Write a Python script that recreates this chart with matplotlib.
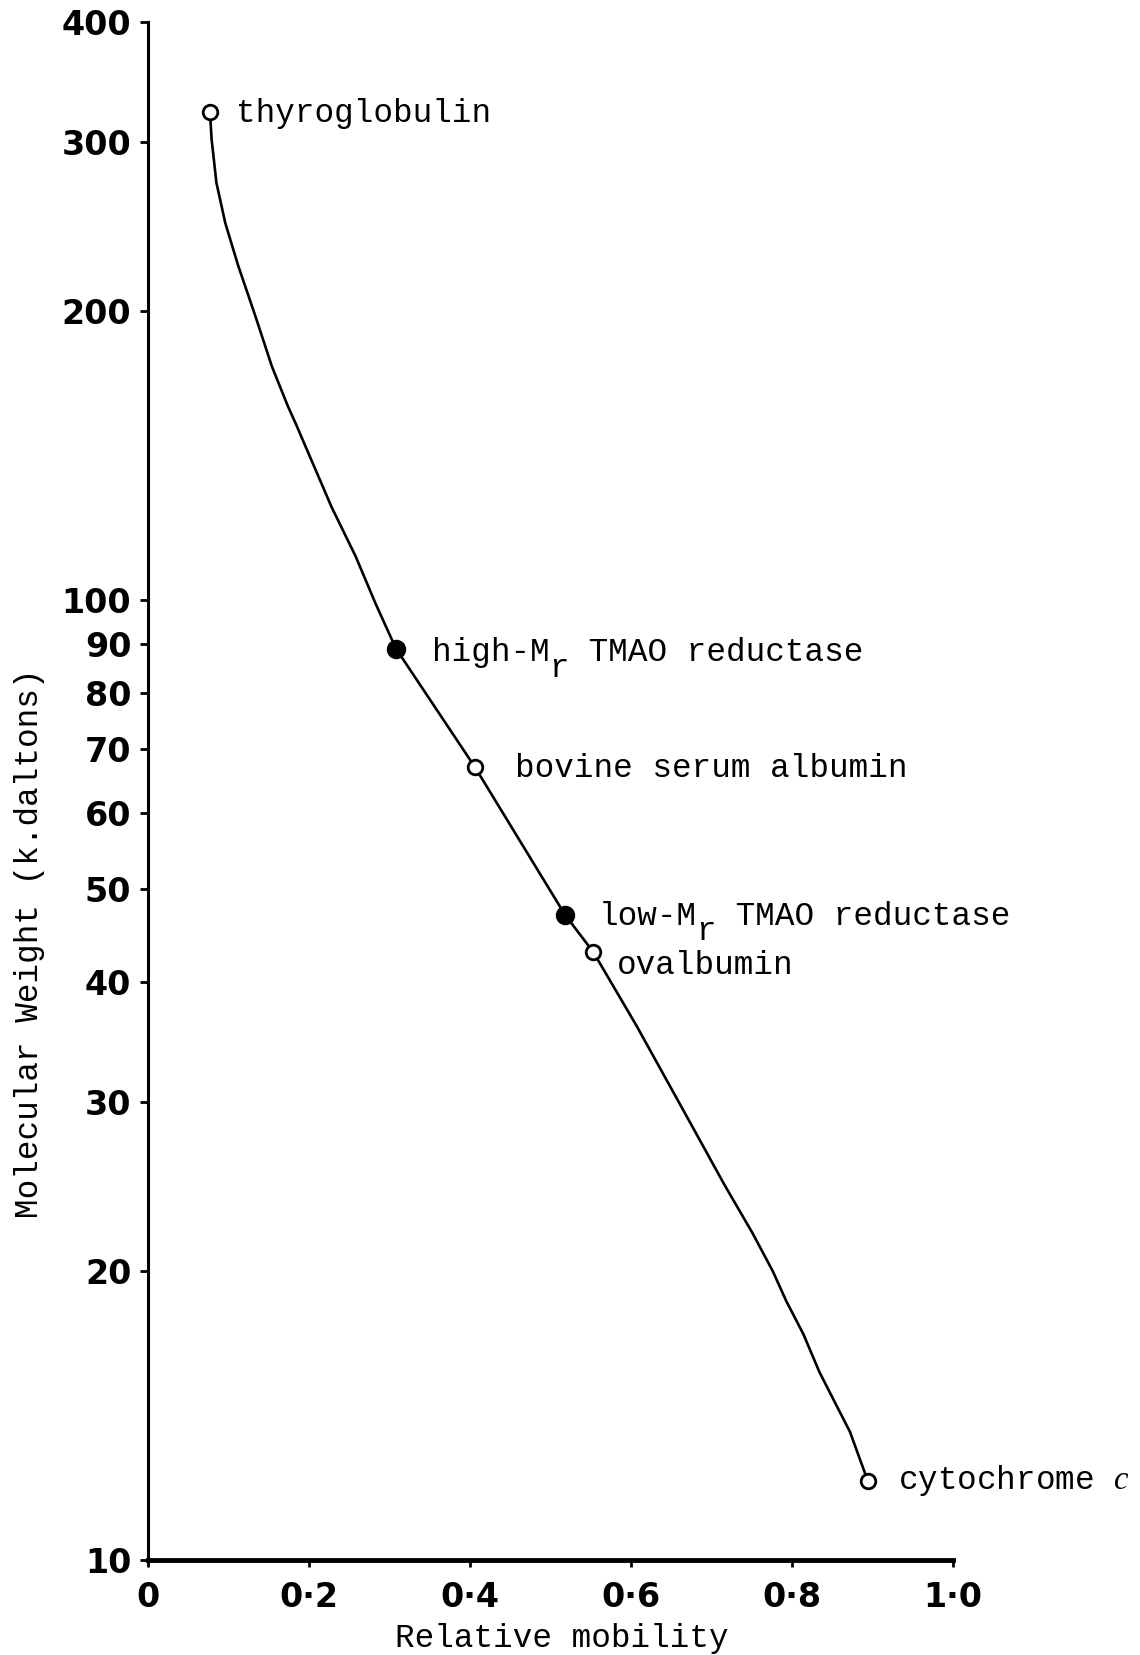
import matplotlib.pyplot as plt
from matplotlib.ticker import FixedLocator, NullLocator

plt.rcParams["mathtext.fontset"] = "custom"
plt.rcParams["mathtext.rm"] = "Liberation Mono"
plt.rcParams["mathtext.it"] = "Liberation Serif:italic"

# --- marker proteins ---
# "|r|" marks the subscript r of M_r
proteins = ["thyroglobulin", "high-M|r| TMAO reductase", "bovine serum albumin",
            "low-M|r| TMAO reductase", "ovalbumin", "cytochrome $c$"]
mobility = [0.077, 0.308, 0.406, 0.518, 0.553, 0.894]
mw_kda = [322, 89, 67, 47, 43, 12.1]
filled = [False, True, False, True, False, False]

# hand-drawn calibration curve, traced points
curve_x = [0.077, 0.079, 0.085, 0.096, 0.112, 0.133, 0.154, 0.174, 0.183,
           0.228, 0.258, 0.283, 0.308, 0.406, 0.518, 0.553, 0.607, 0.676,
           0.716, 0.751, 0.776, 0.793, 0.814, 0.834, 0.855, 0.872, 0.894]
curve_y = [322, 302, 272, 247, 223, 198, 175, 159, 153,
           125, 111, 99, 89, 67, 47, 43, 36.0, 28.3,
           24.6, 21.9, 20.0, 18.6, 17.2, 15.7, 14.5, 13.6, 12.1]

y_ticks = [10, 20, 30, 40, 50, 60, 70, 80, 90, 100, 200, 300, 400]
y_ticklabels = [str(v) for v in y_ticks]
x_ticks = [0, 0.2, 0.4, 0.6, 0.8, 1.0]
x_ticklabels = ["0", "0·2", "0·4", "0·6", "0·8", "1·0"]

mono = "Liberation Mono"
fs = 23.5
cw = 0.6 * fs  # monospace advance, points

fig = plt.figure(figsize=(11.4, 16.55), dpi=100)
ax = fig.add_axes([148 / 1140, 1 - 1560 / 1655, 805 / 1140, 1538 / 1655])

ax.plot(curve_x, curve_y, color="black", lw=1.9, zorder=2)
for x, y, f in zip(mobility, mw_kda, filled):
    ax.plot(x, y, "o", ms=12 if f else 10.5, mew=2.0, mec="black",
            mfc="black" if f else "white", zorder=3)

# label offsets in points (dx, dy)
offsets = [(19, -1), (26, -3), (29, -1), (24, -1), (17, -10), (22, 0)]
for name, x, y, (dx, dy) in zip(proteins, mobility, mw_kda, offsets):
    parts = name.split("|")
    if len(parts) == 1:
        ax.annotate(name, (x, y), xytext=(dx, dy), textcoords="offset points",
                    ha="left", va="center", fontfamily=mono, fontsize=fs)
        continue
    head, sub, tail = parts
    ax.annotate(head, (x, y), xytext=(dx, dy), textcoords="offset points",
                ha="left", va="center", fontfamily=mono, fontsize=fs)
    ax.annotate(sub, (x, y), xytext=(dx + len(head) * cw, dy - 11),
                textcoords="offset points", ha="left", va="center",
                fontfamily=mono, fontsize=fs)
    ax.annotate(tail, (x, y), xytext=(dx + (len(head) + 1) * cw, dy),
                textcoords="offset points", ha="left", va="center",
                fontfamily=mono, fontsize=fs)

ax.set_yscale("log")
ax.set_ylim(10, 400)
ax.set_xlim(0, 1.0)
ax.yaxis.set_major_locator(FixedLocator(y_ticks))
ax.yaxis.set_minor_locator(NullLocator())
ax.set_yticklabels(y_ticklabels)
ax.set_xticks(x_ticks)
ax.set_xticklabels(x_ticklabels)

for lab in ax.get_yticklabels() + ax.get_xticklabels():
    lab.set_fontfamily("DejaVu Sans")
    lab.set_fontweight("bold")
ax.tick_params(axis="y", labelsize=24, length=6, width=2, pad=6)
ax.tick_params(axis="x", labelsize=24, length=5, width=2, pad=10)

ax.spines["top"].set_visible(False)
ax.spines["right"].set_visible(False)
ax.spines["left"].set_linewidth(2.2)
ax.spines["bottom"].set_linewidth(3.5)

ax.set_xlabel("Relative mobility", fontfamily=mono, fontsize=fs)
ax.xaxis.set_label_coords(0.514, -0.041)
ax.set_ylabel("Molecular Weight (k.daltons)", fontfamily=mono, fontsize=fs)
ax.yaxis.set_label_coords(-0.128, 0.401)

fig.savefig("out.png", dpi=100)
